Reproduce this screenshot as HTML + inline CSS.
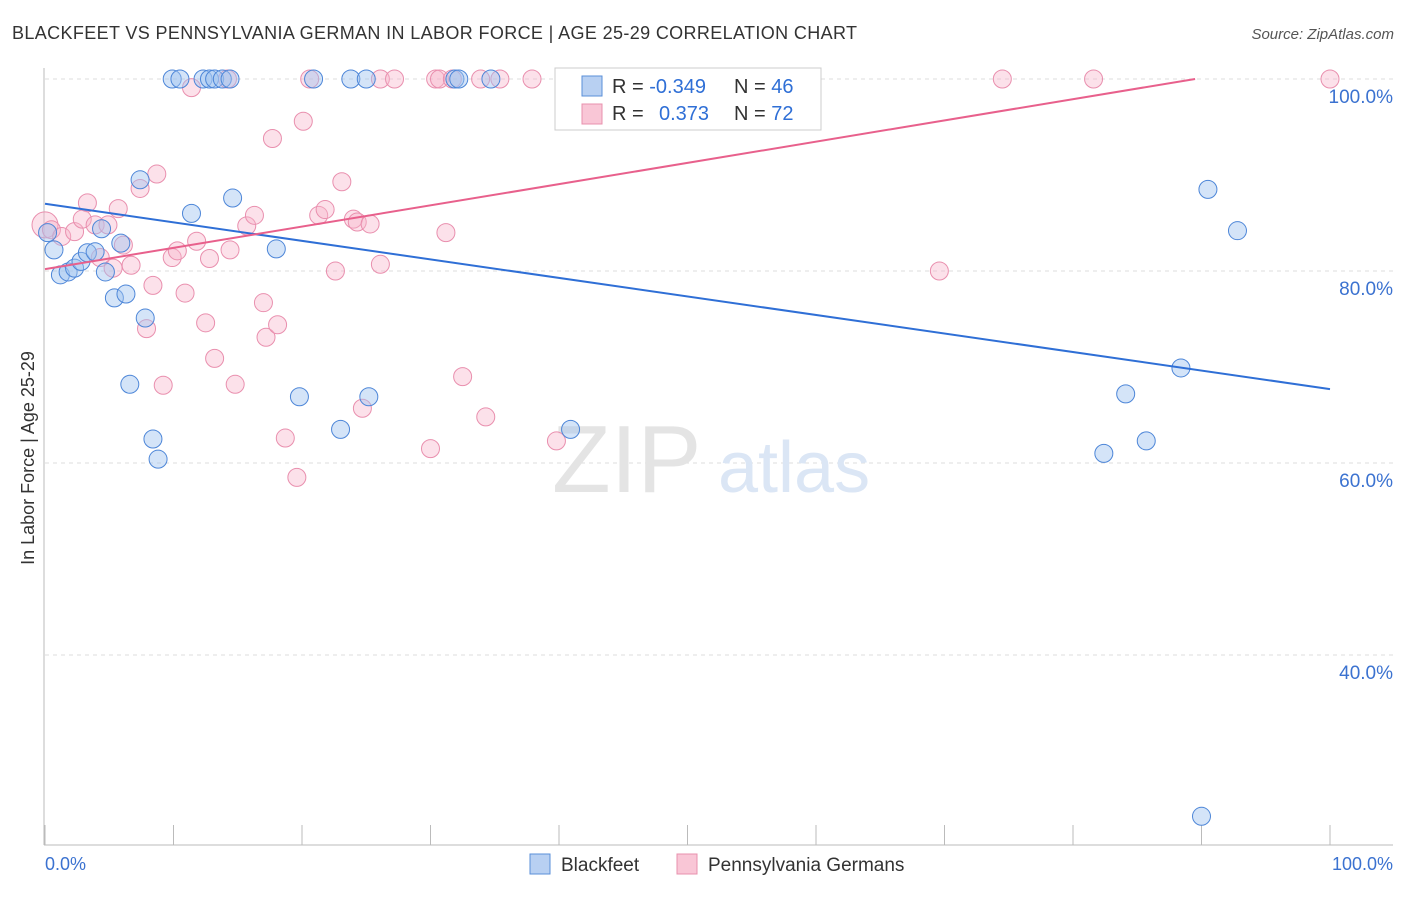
<!DOCTYPE html>
<html><head><meta charset="utf-8"><style>
body{margin:0;background:#fff;font-family:"Liberation Sans",sans-serif}
svg text{font-family:"Liberation Sans",sans-serif}
</style></head><body>
<svg id="chart" width="1406" height="892">
<text x="12" y="39" font-size="18" fill="#333" textLength="845">BLACKFEET VS PENNSYLVANIA GERMAN IN LABOR FORCE | AGE 25-29 CORRELATION CHART</text>
<text x="1394" y="39" font-size="15" fill="#555" text-anchor="end" font-style="italic">Source: ZipAtlas.com</text>
<g id="grid"></g>
<text x="552" y="492" font-size="96" fill="#e4e4e4" font-family="Liberation Serif">ZIP</text>
<text x="718" y="492" font-size="72" fill="#dbe6f5">atlas</text>
<text transform="translate(34,458) rotate(-90)" font-size="18" fill="#333" text-anchor="middle">In Labor Force | Age 25-29</text>
<g id="pts"></g>
<g id="lines"></g>
<g>
<rect x="555" y="68" width="266" height="62" fill="#fff" stroke="#ccc"/>
<rect x="582" y="76" width="20" height="20" fill="#b8d0f2" stroke="#5a8fd8"/>
<rect x="582" y="104" width="20" height="20" fill="#f9c6d6" stroke="#e890ad"/>
<text x="612" y="93" font-size="20" fill="#333">R = <tspan fill="#2f6fd6">-0.349</tspan><tspan x="734">N = </tspan><tspan fill="#2f6fd6">46</tspan></text>
<text x="612" y="120" font-size="20" fill="#333">R = <tspan fill="#2f6fd6" x="659">0.373</tspan><tspan x="734">N = </tspan><tspan fill="#2f6fd6">72</tspan></text>
</g>
<g>
<rect x="530" y="854" width="20" height="20" fill="#b8d0f2" stroke="#5a8fd8"/>
<text x="561" y="871" font-size="19" fill="#333">Blackfeet</text>
<rect x="677" y="854" width="20" height="20" fill="#f9c6d6" stroke="#e890ad"/>
<text x="708" y="871" font-size="19" fill="#333">Pennsylvania Germans</text>
</g>
</svg>
<script>
const yTicks=[100,80,60,40];
const yTickLabels=["100.0%","80.0%","60.0%","40.0%"];
const xTickLabels=["0.0%","100.0%"];
const blueX=[9.9,10.5,12.3,12.8,13.2,13.8,14.4,20.9,23.8,25.0,31.9,32.2,34.7,7.4,11.4,14.6,18.0,0.7,0.2,1.2,1.8,2.3,2.8,3.3,3.9,4.4,4.7,5.4,6.3,5.9,7.8,6.6,8.4,8.8,19.8,23.0,25.2,40.9,90.5,92.8,88.4,84.1,85.7,82.4,90.0];
const blueY=[100,100,100,100,100,100,100,100,100,100,100,100,100,89.5,86.0,87.6,82.3,82.2,84.0,79.6,79.9,80.3,81.0,81.9,82.0,84.4,79.9,77.2,77.6,82.9,75.1,68.2,62.5,60.4,66.9,63.5,66.9,63.5,88.5,84.2,69.9,67.2,62.3,61.0,23.2];
const pinkX=[0,0.5,1.3,2.3,3.3,2.9,3.9,4.9,5.7,6.1,4.3,5.3,6.7,8.4,7.9,8.7,7.4,9.2,9.9,10.3,10.9,11.8,12.5,12.8,13.2,14.4,14.8,15.7,16.3,17.0,17.2,18.1,18.7,19.6,17.7,20.1,11.4,21.3,21.8,23.1,22.6,24.0,24.3,25.3,24.7,26.1,30.0,31.2,32.5,34.3,39.8,20.6,26.1,27.2,30.4,30.7,31.7,33.9,35.4,37.9,41.1,43.6,58.5,74.5,81.6,100,14.2,69.6];
const pinkY=[84.8,84.3,83.6,84.1,87.1,85.4,84.8,84.8,86.5,82.7,81.4,80.3,80.6,78.5,74.0,90.1,88.6,68.1,81.4,82.1,77.7,83.1,74.6,81.3,70.9,82.2,68.2,84.7,85.8,76.7,73.1,74.4,62.6,58.5,93.8,95.6,99.1,85.8,86.4,89.3,80.0,85.4,85.1,84.9,65.7,80.7,61.5,84.0,69.0,64.8,62.3,100,100,100,100,100,100,100,100,100,100,100,100,100,100,100,100,80.0];
const blueTrend=[[0,87.0],[100,67.7]];
const pinkTrend=[[0,80.2],[89.5,100]];
const NS="http://www.w3.org/2000/svg";
const sx=v=>45+v*12.85, sy=v=>79+(100-v)*9.6;
function mk(t,a,p){const e=document.createElementNS(NS,t);for(const k in a)e.setAttribute(k,a[k]);p.appendChild(e);return e;}
const grid=document.getElementById('grid');
yTicks.forEach((t,i)=>{
 const l=mk('line',{x1:45,x2:1393,y1:sy(t),y2:sy(t),stroke:'#ddd','stroke-dasharray':'4,4'},grid);
 
 
 const tx=mk('text',{x:1393,y:sy(t)+24,'font-size':19,fill:'#3b72d0','text-anchor':'end'},grid);
 tx.textContent=yTickLabels[i];
 
 
});
mk('line',{x1:44,x2:44,y1:68,y2:845,stroke:'#bbb'},grid);
mk('line',{x1:44,x2:1393,y1:845,y2:845,stroke:'#bbb'},grid);
for(let i=0;i<=10;i++){mk('line',{x1:sx(i*10),x2:sx(i*10),y1:825,y2:845,stroke:'#bbb'},grid);}
[[0,'start',45],[100,'end',1393]].forEach((d,i)=>{
 const tx=mk('text',{x:d[2],y:870,'font-size':18,fill:'#3b72d0','text-anchor':d[1]},grid);
 tx.textContent=xTickLabels[i];
 
 
});
const pts=document.getElementById('pts');
pinkX.forEach((x,i)=>{
 const c=mk('circle',{cx:sx(x),cy:sy(pinkY[i]),r:i===0?13:9,fill:'rgba(248,180,202,0.4)',stroke:'#e98fae','stroke-width':1},pts);
 
 
});
blueX.forEach((x,i)=>{
 const c=mk('circle',{cx:sx(x),cy:sy(blueY[i]),r:9,fill:'rgba(160,195,240,0.45)',stroke:'#4d86d8','stroke-width':1},pts);
 
 
});
const lines=document.getElementById('lines');
const b=mk('line',{x1:sx(blueTrend[0][0]),y1:sy(blueTrend[0][1]),x2:sx(blueTrend[1][0]),y2:sy(blueTrend[1][1]),stroke:'#2f6fd6','stroke-width':2},lines);


const p=mk('line',{x1:sx(pinkTrend[0][0]),y1:sy(pinkTrend[0][1]),x2:sx(pinkTrend[1][0]),y2:sy(pinkTrend[1][1]),stroke:'#e8608c','stroke-width':2},lines);


</script>
</body></html>
